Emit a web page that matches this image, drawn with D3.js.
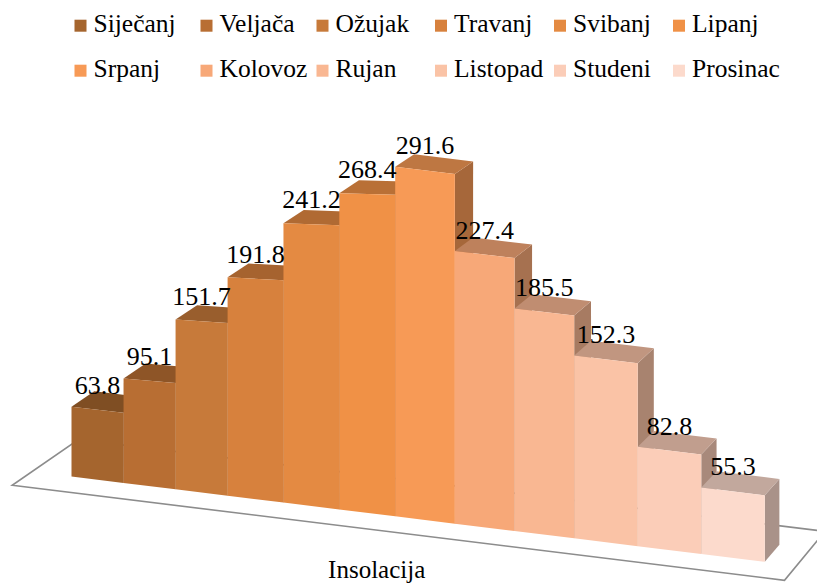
<!DOCTYPE html>
<html>
<head>
<meta charset="utf-8">
<script src="https://cdn.jsdelivr.net/npm/d3@7"></script>
<style>
  html, body { margin: 0; padding: 0; background: #fff; }
  svg text { font-family: "Liberation Serif", "Times New Roman", "DejaVu Serif", serif; }
</style>
</head>
<body>
<svg width="817" height="584"></svg>
<script>
const months = ["Siječanj", "Veljača", "Ožujak", "Travanj", "Svibanj", "Lipanj",
  "Srpanj", "Kolovoz", "Rujan", "Listopad", "Studeni", "Prosinac"];
const insolation = [63.8, 95.1, 151.7, 191.8, 241.2, 268.4, 291.6, 227.4, 185.5, 152.3, 82.8, 55.3];
const barColors = ["#A5652E", "#B86E33", "#C77A3A", "#D7813D", "#E48A42", "#F09146",
  "#F79A56", "#F7A878", "#F9B792", "#FAC3A6", "#FBCDB8", "#FCDACC"];
const axisTitle = "Insolacija";

const serif = "'Liberation Serif', 'Times New Roman', 'DejaVu Serif', serif";
const svg = d3.select("svg");

/* category position along the (receding) front edge */
const band = d3.scaleBand().domain(months).range([0, 12]).padding(0);
const frontX = d3.scaleLinear().domain([0, 3, 6, 9, 12]).range([71.5, 227.6, 395.2, 574.2, 764.8]);
const floorY = d3.scaleLinear().domain([71.5, 764.8]).range([476.5, 561.8]);
/* value -> pixels at the nearest bar, and a perspective factor along the row */
const valueScale = d3.scaleLinear().domain([0, 300]).range([0, 361]);
const persp = d3.scaleLinear().domain([0, 1, 6, 12]).range([0.91, 0.913, 0.996, 1.0]);
const vanish = [2000, -890];
const lam = 0.0118;

// u: position along categories, v: value, w: depth (0 front, 1 back of bars)
function proj(u, v, w) {
  const x0 = frontX(u);
  const y0 = floorY(x0) - valueScale(v) * persp(u);
  return [x0 + w * lam * (vanish[0] - x0), y0 + w * lam * (vanish[1] - y0)];
}
const poly = pts => "M" + pts.map(p => p.join(",")).join("L") + "Z";

/* floor */
const floorU = [-0.76, 12.5], floorW = [-0.85, 2.0];
svg.append("path")
  .attr("d", poly([proj(floorU[0], 0, floorW[0]), proj(floorU[1], 0, floorW[0]),
                   proj(floorU[1], 0, floorW[1]), proj(floorU[0], 0, floorW[1])]))
  .attr("fill", "#fff")
  .attr("stroke", "#8c8c8c")
  .attr("stroke-width", 1.6);

/* bars, far (left) to near (right) */
const bars = svg.append("g");
months.forEach((m, i) => {
  const u0 = band(m), u1 = u0 + band.bandwidth(), v = insolation[i];
  const c = d3.rgb(barColors[i]);
  const g = bars.append("g");
  // right side
  g.append("path")
    .attr("d", poly([proj(u1, 0, 0), proj(u1, 0, 1), proj(u1, v, 1), proj(u1, v, 0)]))
    .attr("fill", c.darker(1.12));
  // top
  g.append("path")
    .attr("d", poly([proj(u0, v, 0), proj(u1, v, 0), proj(u1, v, 1), proj(u0, v, 1)]))
    .attr("fill", c.darker(0.73));
  // front
  g.append("path")
    .attr("d", poly([proj(u0, 0, 0), proj(u1, 0, 0), proj(u1, v, 0), proj(u0, v, 0)]))
    .attr("fill", c);
});

/* value labels */
svg.append("g").selectAll("text")
  .data(months)
  .join("text")
  .attr("x", d => proj(band(d) + band.bandwidth() / 2, 0, 0)[0])
  .attr("y", (d, i) => proj(band(d) + band.bandwidth() / 2, insolation[i], 0)[1] - 16)
  .attr("text-anchor", "middle")
  .attr("font-family", serif)
  .attr("font-size", 26)
  .attr("fill", "#000")
  .text((d, i) => insolation[i].toFixed(1));

/* axis title */
svg.append("text")
  .attr("x", 376.7)
  .attr("y", 578)
  .attr("text-anchor", "middle")
  .attr("font-family", serif)
  .attr("font-size", 25)
  .text(axisTitle);

/* legend, two rows of six */
const legendColX = [74.5, 200.5, 316.5, 435, 554, 673];
const legendRowY = [31.7, 76.7];
const legend = svg.append("g").selectAll("g")
  .data(months)
  .join("g")
  .attr("transform", (d, i) => `translate(${legendColX[i % 6]},${legendRowY[Math.floor(i / 6)]})`);
legend.append("rect")
  .attr("x", 0).attr("y", -12).attr("width", 12).attr("height", 12)
  .attr("fill", (d, i) => barColors[i]);
legend.append("text")
  .attr("x", 19).attr("y", 0)
  .attr("font-family", serif)
  .attr("font-size", 25.5)
  .text(d => d);
</script>
</body>
</html>
